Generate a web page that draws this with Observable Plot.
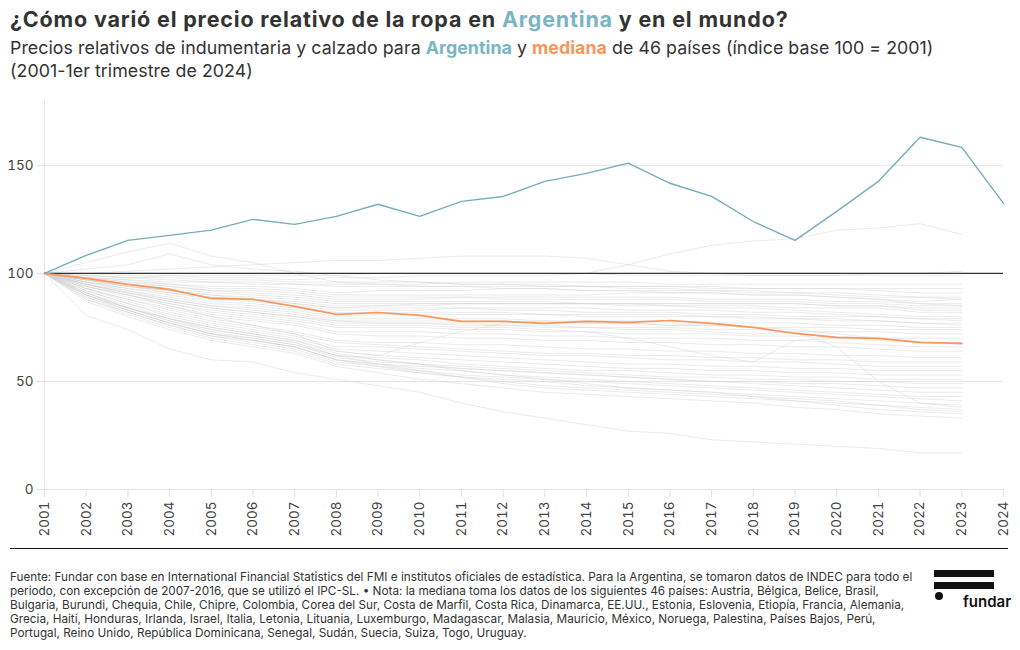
<!DOCTYPE html>
<html>
<head>
<meta charset="utf-8">
<script src="https://cdn.jsdelivr.net/npm/d3@7"></script>
<script src="https://cdn.jsdelivr.net/npm/@observablehq/plot@0.6"></script>
<style>
  html, body { margin: 0; padding: 0; background: #fff; width: 1020px; height: 650px; overflow: hidden; }
  body { position: relative; font-family: Inter, "Noto Sans", sans-serif; color: #333; }
  #title { position: absolute; left: 10px; top: 6px; font-size: 21.5px; font-weight: 700; color: #333; letter-spacing: 0.82px; white-space: nowrap; }
  #subtitle { position: absolute; left: 10px; top: 36px; font-size: 17.8px; line-height: 23px; color: #333; letter-spacing: 0.05px; white-space: nowrap; }
  .arg { color: #7bb4c3; font-weight: 700; }
  .med { color: #f7975b; font-weight: 700; }
  #chart { position: absolute; left: 0; top: 90px; }
  #sep { position: absolute; left: 10px; top: 548px; width: 998px; height: 0; border-top: 1.5px solid #111; }
  #caption { position: absolute; left: 10px; top: 570px; font-size: 11.75px; line-height: 14px; color: #333; white-space: nowrap; }
  #logo { position: absolute; left: 934px; top: 570px; width: 76px; height: 40px; }
  .bar { position: absolute; left: 0; width: 60px; height: 7px; background: #111; }
  .dot { position: absolute; left: 1px; top: 22px; width: 8px; height: 8px; border-radius: 50%; background: #111; }
  .ftxt { position: absolute; left: 29px; top: 22px; font-size: 15px; font-weight: 600; color: #111; }
</style>
</head>
<body>
<div id="title">¿Cómo varió el precio relativo de la ropa en <span class="arg">Argentina</span> y en el mundo?</div>
<div id="subtitle">Precios relativos de indumentaria y calzado para <span class="arg">Argentina</span> y <span class="med">mediana</span> de 46 países (índice base 100 = 2001)<br>(2001-1er trimestre de 2024)</div>
<div id="chart"></div>
<div id="sep"></div>
<div id="caption">Fuente: Fundar con base en International Financial Statistics del FMI e institutos oficiales de estadística. Para la Argentina, se tomaron datos de INDEC para todo el<br>periodo, con excepción de 2007-2016, que se utilizó el IPC-SL. • Nota: la mediana toma los datos de los siguientes 46 países: Austria, Bélgica, Belice, Brasil,<br>Bulgaria, Burundi, Chequia, Chile, Chipre, Colombia, Corea del Sur, Costa de Marfil, Costa Rica, Dinamarca, EE.UU., Estonia, Eslovenia, Etiopía, Francia, Alemania,<br>Grecia, Haití, Honduras, Irlanda, Israel, Italia, Letonia, Lituania, Luxemburgo, Madagascar, Malasia, Mauricio, México, Noruega, Palestina, Países Bajos, Perú,<br>Portugal, Reino Unido, República Dominicana, Senegal, Sudán, Suecia, Suiza, Togo, Uruguay.</div>
<div id="logo"><div class="bar" style="top:0"></div><div class="bar" style="top:12px"></div><div class="dot"></div><div class="ftxt">fundar</div></div>
<script>
// Years
const years = [2001,2002,2003,2004,2005,2006,2007,2008,2009,2010,2011,2012,2013,2014,2015,2016,2017,2018,2019,2020,2021,2022,2023,2024];
const countryYears = years.slice(0, 23); // 2001-2023

// Argentina (2001 - 1er trimestre 2024)
const argentina = [100,108.3,115.3,117.6,120,125,122.7,126.4,132,126.4,133.3,135.6,142.6,146.3,151,141.7,135.6,124,115.3,128.7,142.6,163,158.3,132.4];

// Mediana de 46 países (2001-2023)
const mediana = [100,97.7,94.9,92.6,88.4,88,84.7,81,81.9,80.6,77.8,77.8,76.9,77.8,77.3,78.2,76.9,75,72.2,70.4,69.9,68.1,67.6];

// Cada uno de los 46 países (2001-2023), leídos aproximadamente
const paises = [
  [100,99,98,99,98,98,97,98,98,99,99,99,99,100,104,109,113,115,116,120,121,123,118],
  [100,105,110,114,108,105,100,96,95,94,94,93,93,92,92,91,91,90,90,89,88,86,85],
  [100,102,104,109,104,102,101,99,97,96,95,95,94,94,93,93,92,91,91,90,89,89,88],
  [100,100,101,102,103,104,105,106,106,107,108,108,108,107,104,101,100,99,99,99,100,100,101],
  [100,100,99,99,99,99,99,99,100,100,100,100,100,100,99,99,99,99,99,99,99,99,99],
  [100,99,98,97,96,96,95,95,95,95,96,96,96,96,96,95,95,95,95,95,95,95,95],
  [100,99,98,98,97,97,96,96,96,96,95,95,95,94,94,94,93,93,93,93,93,93,93],
  [100,98,97,96,96,95,95,94,94,94,94,94,94,94,94,94,94,93,93,93,92,91,91],
  [100,98,97,95,94,94,93,91,92,92,92,93,93,92,92,92,92,92,91,91,90,89,89],
  [100,98,96,95,93,93,92,90,90,90,90,90,90,90,91,91,91,90,90,89,88,87,88],
  [100,97,95,94,92,91,90,88,88,88,89,89,89,89,89,89,88,88,88,87,87,86,86],
  [100,98,96,94,92,92,91,89,89,89,89,88,88,88,88,88,87,87,87,86,86,85,85],
  [100,97,95,93,91,90,89,87,87,87,87,87,87,86,86,86,86,86,86,85,85,84,84],
  [100,97,94,92,90,89,88,86,86,86,86,86,86,86,86,86,86,86,86,85,85,83,83],
  [100,97,94,92,90,88,87,85,85,86,86,86,86,86,86,85,85,85,84,84,84,82,82],
  [100,96,94,91,89,88,86,84,85,85,86,86,86,86,85,85,84,84,83,82,81,80,80],
  [100,96,93,91,88,87,85,83,83,83,84,84,84,84,83,83,83,82,82,81,80,79,79],
  [100,97,94,92,89,88,86,84,84,84,84,83,83,82,82,82,81,81,80,80,80,79,78],
  [100,96,93,90,87,86,84,82,82,82,82,82,81,81,81,81,80,80,79,79,78,77,77],
  [100,96,92,89,86,85,83,80,81,81,81,81,81,80,80,80,80,79,79,78,78,77,76],
  [100,95,92,88,85,84,82,79,79,79,79,79,78,78,78,78,77,77,77,76,76,75,75],
  [100,95,91,88,85,83,81,78,78,78,78,78,77,77,77,76,76,75,75,75,74,74,74],
  [100,95,91,87,84,82,80,77,77,77,77,76,76,75,75,75,74,74,73,73,73,72,72],
  [100,94,90,86,82,80,78,75,75,75,74,74,73,73,72,72,72,71,71,70,70,70,70],
  [100,95,90,85,80,76,72,64,62,68,73,77,78,77,77,76,76,75,74,72,70,68,68],
  [100,94,89,85,81,79,77,73,73,73,72,72,71,71,70,70,70,69,69,68,67,66,66],
  [100,93,88,84,80,78,76,72,71,71,70,70,69,69,68,68,67,67,66,66,65,64,64],
  [100,94,90,86,83,81,79,76,76,76,75,75,74,73,70,66,62,59,69,70,69,68,67],
  [100,95,91,87,84,82,80,78,77,77,76,76,75,75,74,74,73,72,73,66,50,40,38],
  [100,93,88,83,79,76,73,69,68,68,67,67,66,65,65,64,64,63,63,62,62,61,61],
  [100,93,87,82,78,75,72,68,67,66,65,64,63,63,62,62,61,61,60,60,59,59,59],
  [100,92,86,81,77,74,71,66,66,65,64,63,62,62,61,60,60,59,59,58,57,57,57],
  [100,92,86,80,76,73,70,65,64,63,62,61,60,59,58,58,57,57,56,56,55,55,55],
  [100,91,85,79,75,72,69,64,62,61,60,59,58,57,56,56,55,55,54,54,53,53,53],
  [100,91,84,79,74,71,68,62,61,60,58,57,56,55,55,54,53,53,52,52,51,51,51],
  [100,90,84,78,73,70,67,61,59,58,57,56,55,54,53,52,52,51,51,50,50,49,49],
  [100,90,83,77,72,69,66,60,58,57,56,55,54,53,52,51,50,50,49,49,48,47,47],
  [100,91,84,78,74,71,68,62,60,58,56,55,54,53,52,51,50,49,48,47,46,45,45],
  [100,90,83,77,72,69,66,60,58,56,55,53,52,51,50,49,48,47,46,45,44,43,43],
  [100,89,82,76,71,68,65,59,57,55,53,52,51,50,49,48,47,46,45,44,43,42,41],
  [100,88,81,75,70,67,64,58,56,54,52,51,50,48,47,46,45,44,43,42,41,40,39],
  [100,90,84,79,75,72,69,63,60,58,55,53,51,49,47,46,45,43,42,41,39,38,37],
  [100,88,82,76,71,69,66,60,57,54,52,50,48,47,46,45,44,43,41,40,39,37,36],
  [100,89,83,77,72,70,67,62,58,55,52,49,47,46,45,44,43,42,41,39,37,36,35],
  [100,87,80,74,69,66,63,57,54,51,49,47,45,44,43,42,41,40,38,37,35,34,33],
  [100,80.5,74,65,60,59,54,51,48,45,40,36,33,30,27,26,23,22,21,20,19,17,17]
];

const yTicks = [0, 50, 100, 150];

const grayData = paises.flatMap((serie, i) => serie.map((v, j) => ({pais: i, year: countryYears[j], value: v})));
const argData = argentina.map((v, j) => ({year: years[j], value: v}));
const medData = mediana.map((v, j) => ({year: countryYears[j], value: v}));

const chart = Plot.plot({
  width: 1020,
  height: 460,
  marginTop: 10,
  marginBottom: 61,
  marginLeft: 44,
  marginRight: 17,
  style: {fontFamily: "Inter, 'Noto Sans', sans-serif", fontSize: "13px", color: "#444", background: "#fff"},
  x: {domain: [2001, 2024], label: null},
  y: {domain: [0, 180], label: null},
  marks: [
    Plot.gridY([50, 150], {stroke: "#e6e6e6", strokeOpacity: 1}),
    Plot.ruleY([0], {stroke: "#e6e6e6"}),
    Plot.ruleX([2001], {stroke: "#e6e6e6"}),
    Plot.axisY({ticks: yTicks, tickSize: 8, tickPadding: 3, stroke: "#e0e0e0", fill: "#444", fontSize: 13.5, label: null}),
    Plot.axisX({ticks: years, tickFormat: d => String(d), tickRotate: -90, tickSize: 8, tickPadding: 4, stroke: "#e0e0e0", fill: "#444", fontSize: 13.5, label: null}),
    Plot.line(grayData, {x: "year", y: "value", z: "pais", stroke: "#cfcfcf", strokeOpacity: 0.42, strokeWidth: 1}),
    Plot.ruleY([100], {stroke: "#333", strokeWidth: 1.1}),
    Plot.line(medData, {x: "year", y: "value", stroke: "#f7975b", strokeWidth: 1.7}),
    Plot.line(argData, {x: "year", y: "value", stroke: "#76adbd", strokeWidth: 1.4})
  ]
});
document.getElementById("chart").appendChild(chart);
</script>
</body>
</html>
